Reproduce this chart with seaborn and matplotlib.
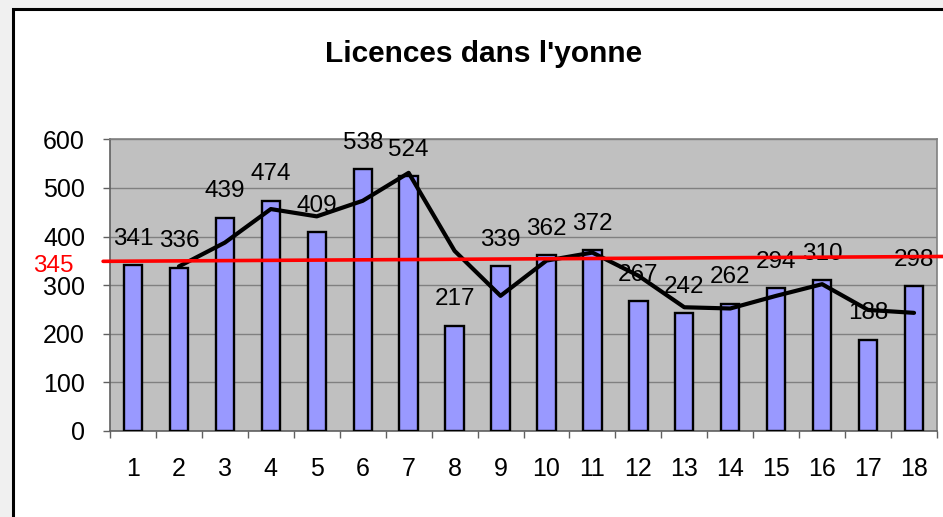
import numpy as np
import pandas as pd
import matplotlib
matplotlib.use("Agg")
import matplotlib.pyplot as plt
import seaborn as sns
from matplotlib.patches import Rectangle

# donnees
mois = [str(i) for i in range(1, 19)]
licences = [341, 336, 439, 474, 409, 538, 524, 217, 339, 362, 372, 267, 242, 262, 294, 310, 188, 298]
# courbe noire (moyenne mobile sur 2 periodes), de la categorie 2 a 18
courbe_x = list(range(1, 18))
courbe_y = [338.5, 387.5, 456.5, 441.5, 473.5, 531, 370.5, 278, 350.5, 367, 319.5, 254.5, 252, 278, 302, 249, 243]
# ligne rouge (moyenne) : valeur a gauche et a droite
moyenne_label = "345"
moyenne_ligne = [349, 359]

sns.set_style("white")
plt.rcParams['font.family'] = ['Liberation Sans', 'DejaVu Sans']
plt.rcParams['text.color'] = 'black'
plt.rcParams['xtick.color'] = 'black'
plt.rcParams['ytick.color'] = 'black'

fig = plt.figure(figsize=(9.43, 5.17), dpi=100)
fig.patch.set_facecolor('#f0f0f0')
W, H = 943, 517
cadre = Rectangle((13 / W, -0.1), 1.1, 1 - 9 / H + 0.1, transform=fig.transFigure,
                  facecolor='white', edgecolor='black', linewidth=2.2, zorder=-1)
fig.add_artist(cadre)

ax = fig.add_axes([110 / W, 1 - 431 / H, (937 - 110) / W, (431 - 139.3) / H])
ax.set_zorder(2)
ax.set_facecolor('#c0c0c0')

df = pd.DataFrame({'mois': mois, 'licences': licences})
sns.barplot(data=df, x='mois', y='licences', color='#9999ff', saturation=1, width=0.4,
            edgecolor='black', linewidth=1.7, ax=ax, zorder=3)
sns.lineplot(x=courbe_x, y=courbe_y, color='black', linewidth=3, ax=ax, zorder=4)

for i, v in enumerate(licences):
    ax.annotate(str(v), (i, v), xytext=(0, 19), textcoords='offset points',
                ha='center', va='center', fontsize=17.5, zorder=5)

# ligne rouge de la moyenne
ax.plot([-0.65, 17.65], moyenne_ligne, color='red', linewidth=2.6, clip_on=False, zorder=6)
ax.annotate(moyenne_label, (-0.5, 339), xytext=(-26, 0), textcoords='offset points',
            ha='right', va='center', color='red', fontsize=17.5, annotation_clip=False)

ax.set_xlim(-0.5, 17.5)
ax.set_ylim(0, 600)
ax.set_yticks(range(0, 601, 100))
ax.yaxis.grid(True, color='#808080', linewidth=1)
ax.set_axisbelow(True)
ax.set_xlabel('')
ax.set_ylabel('')
for s in ax.spines.values():
    s.set_color('#808080')
    s.set_linewidth(1.2)
ax.spines['left'].set_color('#606060')
ax.spines['bottom'].set_color('#606060')

ax.set_xticks(np.arange(-0.5, 18, 1), minor=True)
ax.tick_params(axis='x', which='major', length=0, pad=19, labelsize=18)
ax.tick_params(axis='x', which='minor', length=5, width=1, color='#606060', direction='out', bottom=True)
ax.tick_params(axis='y', length=5, width=1, color='#606060', direction='out', left=True, pad=13, labelsize=18)

fig.text(484 / W, 1 - 53.5 / H, "Licences dans l'yonne", ha='center', va='center',
         fontsize=21.5, fontweight='bold')

fig.savefig('out.png', dpi=100, facecolor=fig.get_facecolor())
